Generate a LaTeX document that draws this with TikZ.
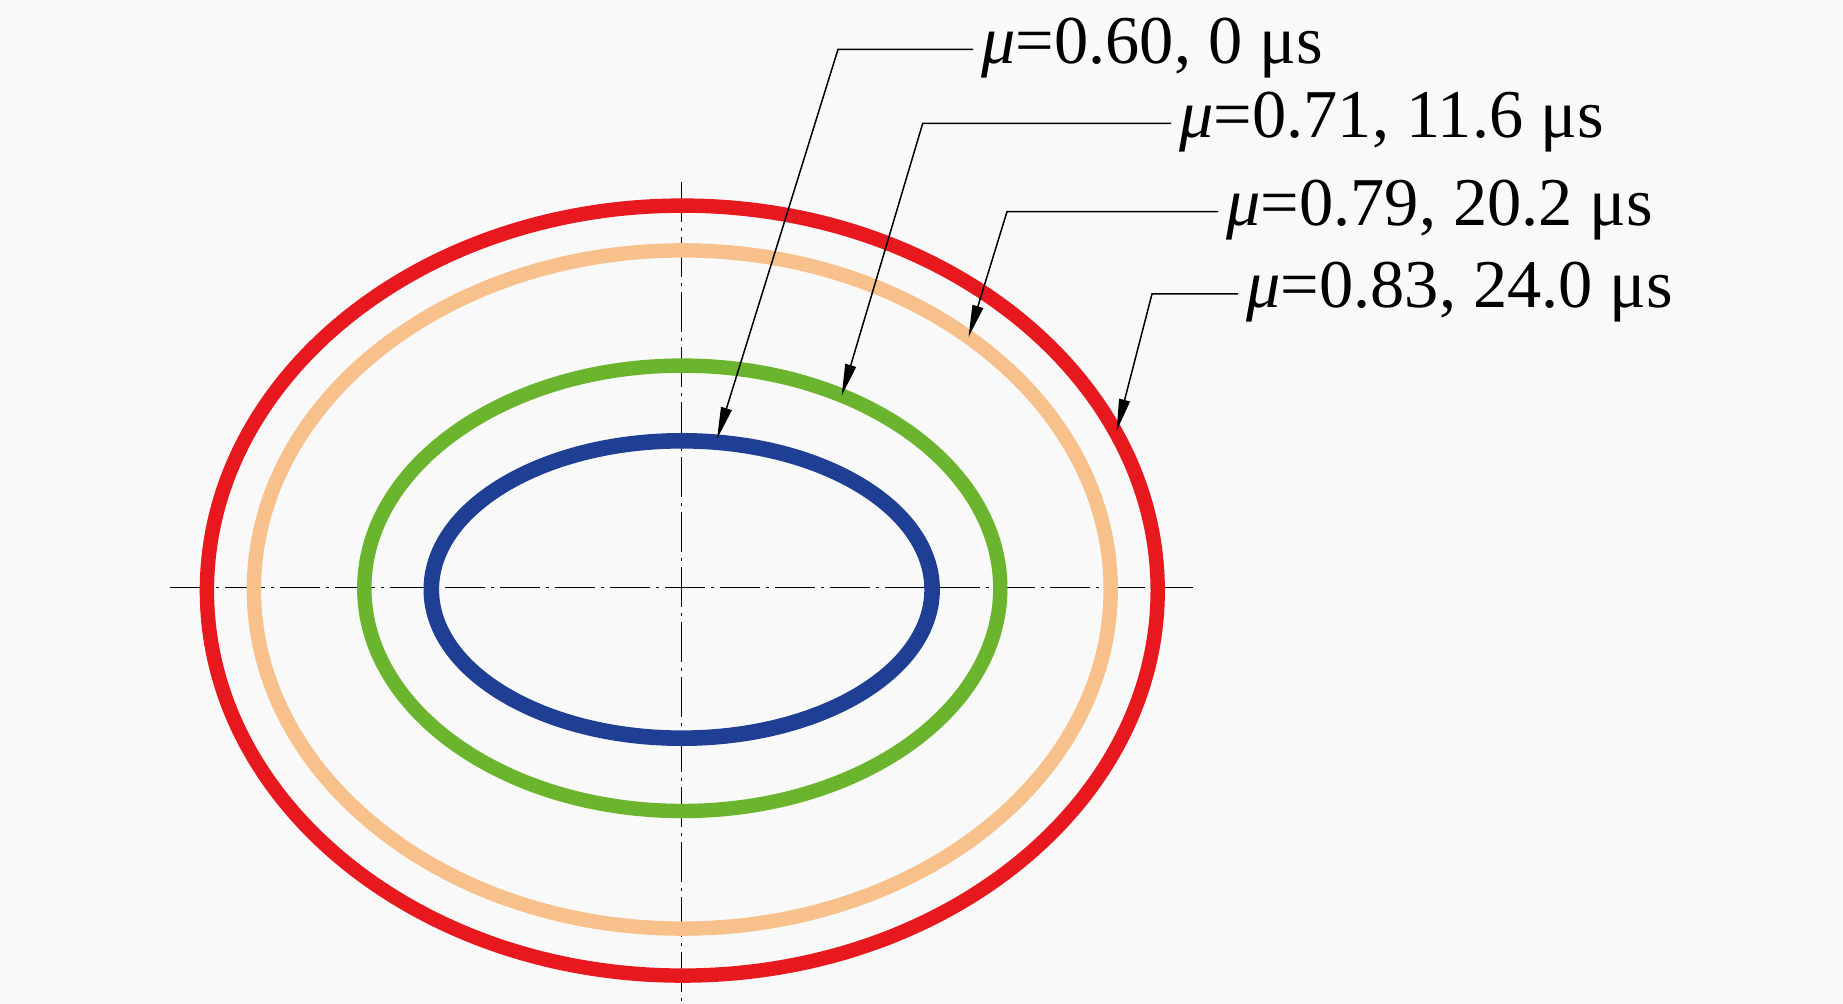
\documentclass[tikz,border=0pt]{standalone}
\usepackage{fontspec}
\setmainfont{Liberation Serif}
\usetikzlibrary{arrows.meta}
\definecolor{bgc}{HTML}{F9F9F9}
\definecolor{cred}{HTML}{E8191E}
\definecolor{corange}{HTML}{F8C18C}
\definecolor{cgreen}{HTML}{6BB52E}
\definecolor{cblue}{HTML}{1F3F95}
\tikzset{
  ring/.style={line width=7.2pt},
  axisline/.style={line width=0.5pt, dash pattern=on 20pt off 3pt on 1.5pt off 3pt},
  leader/.style={line width=0.75pt, -{Triangle[length=16pt,width=5.5pt]}},
  lab/.style={anchor=west, inner sep=0pt, font=\fontsize{34.2}{40}\selectfont},
}
\begin{document}
\begin{tikzpicture}[x=0.5pt,y=-0.5pt]
\fill[bgc] (0,0) rectangle (1843,1004);
\useasboundingbox (0,0) rectangle (1843,1004);
% axes
\draw[axisline] (170,587.7) -- (1193,587.7);
\draw[axisline] (681.7,182) -- (681.7,1004);
% rings
\draw[ring, cred] (682.3,590.6) ellipse [x radius=475.4, y radius=385];
\draw[ring, corange] (682.3,589.5) ellipse [x radius=428.4, y radius=339.1];
\draw[ring, cgreen] (682.3,588.3) ellipse [x radius=318, y radius=222.7];
\draw[ring, cblue, line width=7.8pt] (681.7,589.5) ellipse [x radius=250.4, y radius=148.7];
% labels
\node[lab] (l1) at (981,48) {{\itshape μ}=0.60, 0 μs};
\node[lab] (l2) at (1179,122) {{\itshape μ}=0.71, 11.6 μs};
\node[lab] (l3) at (1226,210) {{\itshape μ}=0.79, 20.2 μs};
\node[lab] (l4) at (1246,292) {{\itshape μ}=0.83, 24.0 μs};
% elbows and tips
\coordinate (e1) at (838,49.4);
\coordinate (e2) at (922.7,123.4);
\coordinate (e3) at (1007,211.6);
\coordinate (e4) at (1152,293.9);
\coordinate (t1) at (717,439);
\coordinate (t2) at (841.6,396);
\coordinate (t3) at (968.5,337);
\coordinate (t4) at (1116.6,431);
\draw[leader] ([xshift=-4pt]l1.west|-e1) -- (e1) -- (t1);
\draw[leader] ([xshift=-4pt]l2.west|-e2) -- (e2) -- (t2);
\draw[leader] ([xshift=-4pt]l3.west|-e3) -- (e3) -- (t3);
\draw[leader] ([xshift=-4pt]l4.west|-e4) -- (e4) -- (t4);
\end{tikzpicture}
\end{document}
